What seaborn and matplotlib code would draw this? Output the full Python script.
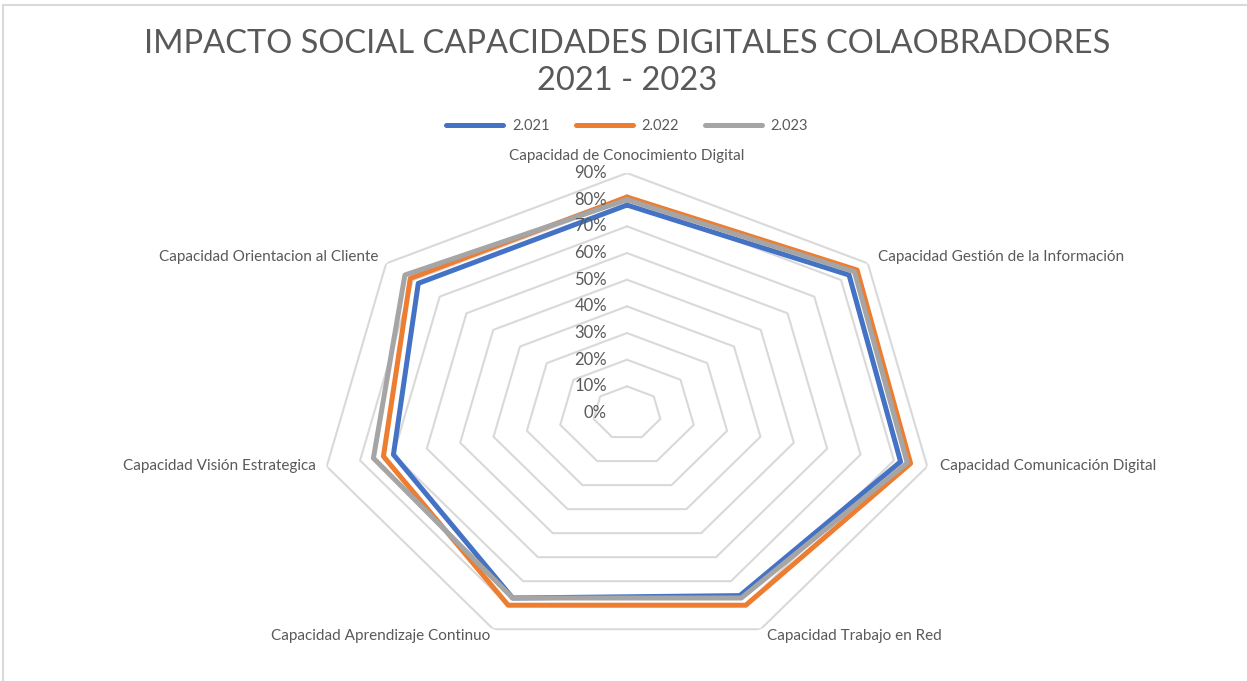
import numpy as np
import pandas as pd
import matplotlib
matplotlib.use("Agg")
import matplotlib.pyplot as plt
import seaborn as sns
from matplotlib.lines import Line2D

categories = [
    "Capacidad de Conocimiento Digital",
    "Capacidad Gestión de la Información",
    "Capacidad Comunicación Digital",
    "Capacidad Trabajo en Red",
    "Capacidad Aprendizaje Continuo",
    "Capacidad Visión Estrategica",
    "Capacidad Orientacion al Cliente",
]
series_names = ["2.021", "2.022", "2.023"]
values_2021 = [0.78, 0.83, 0.82, 0.76, 0.77, 0.70, 0.78]
values_2022 = [0.81, 0.86, 0.85, 0.80, 0.80, 0.73, 0.81]
values_2023 = [0.80, 0.85, 0.84, 0.77, 0.77, 0.76, 0.83]
ring_levels = [0.0, 0.1, 0.2, 0.3, 0.4, 0.5, 0.6, 0.7, 0.8, 0.9]
ring_labels = ["0%", "10%", "20%", "30%", "40%", "50%", "60%", "70%", "80%", "90%"]
title = "IMPACTO SOCIAL CAPACIDADES DIGITALES COLAOBRADORES\n2021 - 2023"

colors = ["#4472C4", "#ED7D31", "#A5A5A5"]
text_color = "#595959"
grid_color = "#D9D9D9"

sns.set_theme(style="white")
plt.rcParams["font.family"] = ["Lato", "DejaVu Sans"]

n = len(categories)
theta = np.linspace(0, 2 * np.pi, n, endpoint=False)
theta_closed = np.append(theta, theta[0])

rows = []
for name, vals in zip(series_names, [values_2021, values_2022, values_2023]):
    vc = list(vals) + [vals[0]]
    for i, (t, v) in enumerate(zip(theta_closed, vc)):
        rows.append({"series": name, "theta": t, "value": v, "order": i})
df = pd.DataFrame(rows)

fig = plt.figure(figsize=(12.47, 6.81), dpi=100)
ax = fig.add_axes([0.2558, 0.0411, 0.494, 0.7048], projection="polar")
ax.set_theta_zero_location("N")
ax.set_theta_direction(-1)
ax.set_aspect("auto")

# heptagonal rings
for lv in ring_levels[1:]:
    ax.plot(theta_closed, [lv] * len(theta_closed), color=grid_color, lw=1.5, zorder=1)

sns.lineplot(data=df, x="theta", y="value", hue="series", palette=colors,
             sort=False, estimator=None, units="series", lw=3.6, ax=ax, legend=False,
             zorder=3)

ax.set_ylim(0, 0.9)
ax.grid(False)
ax.set_xticks([])
ax.set_yticks([])
ax.set_xlabel("")
ax.set_ylabel("")
ax.spines["polar"].set_visible(False)

# radial value labels
for lv, lab in zip(ring_levels, ring_labels):
    ax.annotate(lab, xy=(0, lv), xytext=(-20, 0), textcoords="offset pixels",
                ha="right", va="center", fontsize=12, color=text_color)

# category labels
offsets = [(0, 17), (10, 6), (13, 0), (6, -7), (-3, -7), (-11, 0), (-8, 6)]
for t, cat, off in zip(theta, categories, offsets):
    s = np.sin(t)
    ha = "left" if s > 0.1 else ("right" if s < -0.1 else "center")
    ax.annotate(cat, xy=(t, 0.9), xytext=off, textcoords="offset pixels",
                ha=ha, va="center", fontsize=11, color=text_color,
                annotation_clip=False)

fig.text(0.503, 0.908, title, ha="center", va="center", fontsize=23.5,
         color=text_color, linespacing=1.3)

handles = [Line2D([0], [0], color=c, lw=3.6) for c in colors]
fig.legend(handles, series_names, loc="center", bbox_to_anchor=(0.503, 0.815),
           ncol=3, frameon=False, fontsize=10.5, labelcolor=text_color,
           handlelength=3.9, handletextpad=0.6, columnspacing=1.8)

# chart border
fig.add_artist(Line2D([0.0025, 0.0025], [0.0, 0.993], transform=fig.transFigure,
                      color=grid_color, lw=1.5))
fig.add_artist(Line2D([0.0025, 1.0], [0.993, 0.993], transform=fig.transFigure,
                      color=grid_color, lw=1.5))

fig.savefig("out.png", dpi=100, facecolor="white")
